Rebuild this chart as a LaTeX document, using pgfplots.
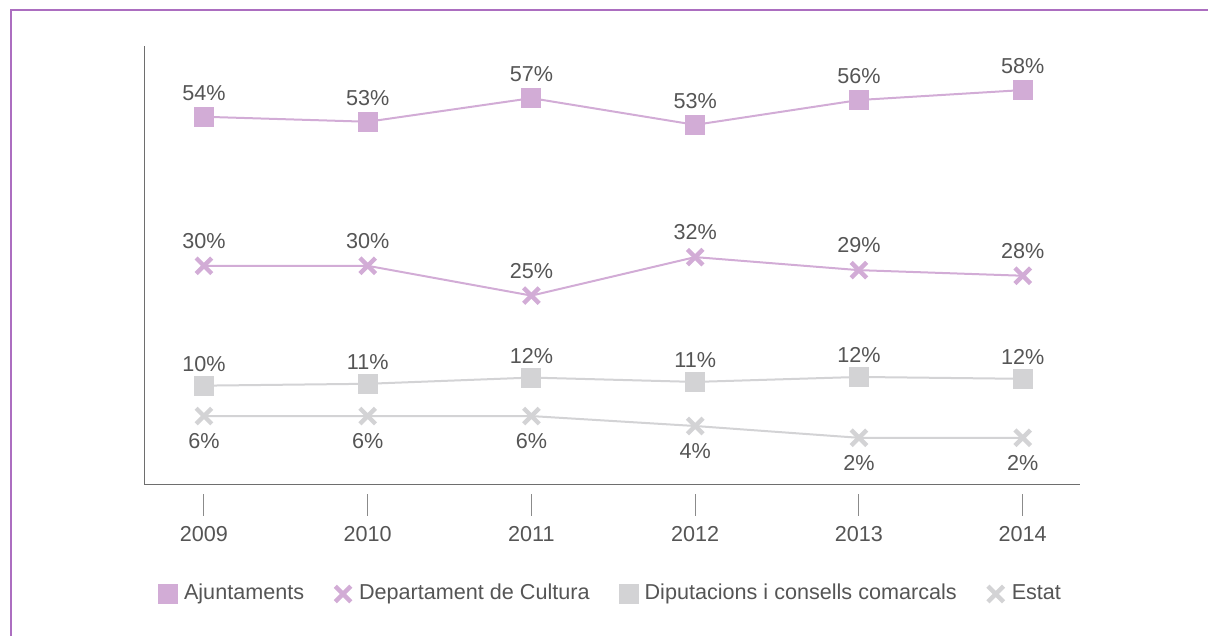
\documentclass[border=0pt]{standalone}
\usepackage{fontspec}
\setmainfont{Liberation Sans}
\usepackage{pgfplots}
\pgfplotsset{compat=1.18}
\usepackage{pgfplotstable}

\definecolor{lila}{RGB}{210,172,214}
\definecolor{grisclar}{RGB}{211,211,213}
\definecolor{marc}{RGB}{172,110,192}
\definecolor{eix}{RGB}{110,110,110}
\definecolor{txt}{RGB}{85,85,85}

% any, posicio estimada, etiqueta
\pgfplotstableread{
any val lab
2009 53.7 54
2010 52.9 53
2011 56.7 57
2012 52.4 53
2013 56.4 56
2014 58.0 58
}\ajunt
\pgfplotstableread{
any val lab
2009 29.7 30
2010 29.7 30
2011 24.9 25
2012 31.1 32
2013 29.0 29
2014 28.1 28
}\cultura
\pgfplotstableread{
any val lab
2009 10.4 10
2010 10.7 11
2011 11.7 12
2012 11.0 11
2013 11.8 12
2014 11.5 12
}\diput
\pgfplotstableread{
any val lab
2009 5.5 6
2010 5.5 6
2011 5.5 6
2012 3.9 4
2013 2.0 2
2014 2.0 2
}\estat

\begin{document}
\begin{tikzpicture}
\path[use as bounding box] (0,0) rectangle (604pt,318pt);
\begin{scope}
\clip (0,0) rectangle (604pt,318pt);
\draw[marc, line width=1pt] (5.25pt,-2pt) -- (5.25pt,312.75pt) -- (610pt,312.75pt);
\end{scope}
\begin{axis}[
  at={(72pt,75.5pt)}, anchor=south west,
  scale only axis, width=468pt, height=219.5pt,
  xmin=2008.634, xmax=2014.35,
  ymin=-5.6, ymax=65.1,
  axis x line*=bottom, axis y line*=left,
  axis line style={eix, line width=0.5pt, -},
  ytick=\empty,
  xtick={2009,...,2014},
  /pgf/number format/assume math mode=true,
  x tick label style={/pgf/number format/1000 sep={}, text=txt, font=\fontsize{10.8}{12}\selectfont, yshift=-6pt},
  xtick align=outside, major tick length=11pt,
  xtick style={eix!80, line width=0.5pt, yshift=-4.5pt},
  point meta=explicit symbolic,
  nodes near coords={\pgfplotspointmeta\%},
  nodes near coords style={text=txt, font=\fontsize{10.8}{12}\selectfont, anchor=center},
  every axis plot/.append style={line width=1pt},
  legend columns=4,
  legend style={draw=none, at={(0.5,0)}, anchor=center, yshift=-54.5pt,
    font=\fontsize{10.8}{12}\selectfont, text=txt,
    nodes={text depth=2.5pt, text height=8pt},
    /tikz/every even column/.append style={column sep=13pt}},
  legend image code/.code={\path[draw=none, fill=none] (-4.5pt,0pt) rectangle (6pt,0pt);
    \draw[#1] plot[only marks] coordinates {(0pt,0pt)};},
]
\addplot[lila, mark=square*, mark size=4.5pt, mark options={draw=none, fill=lila},
  nodes near coords style={yshift=12pt}] table[x=any, y=val, meta=lab] {\ajunt};
\addlegendentry{Ajuntaments}
\addplot[lila, mark=x, mark size=5.5pt, mark options={line width=2.2pt},
  nodes near coords style={yshift=12.5pt}] table[x=any, y=val, meta=lab] {\cultura};
\addlegendentry{Departament de Cultura}
\addplot[grisclar, mark=square*, mark size=4.5pt, mark options={draw=none, fill=grisclar},
  nodes near coords style={yshift=11pt}] table[x=any, y=val, meta=lab] {\diput};
\addlegendentry{Diputacions i consells comarcals}
\addplot[grisclar, mark=x, mark size=5.5pt, mark options={line width=2.2pt},
  nodes near coords style={yshift=-12.5pt}] table[x=any, y=val, meta=lab] {\estat};
\addlegendentry{Estat}
\end{axis}
\end{tikzpicture}
\end{document}
